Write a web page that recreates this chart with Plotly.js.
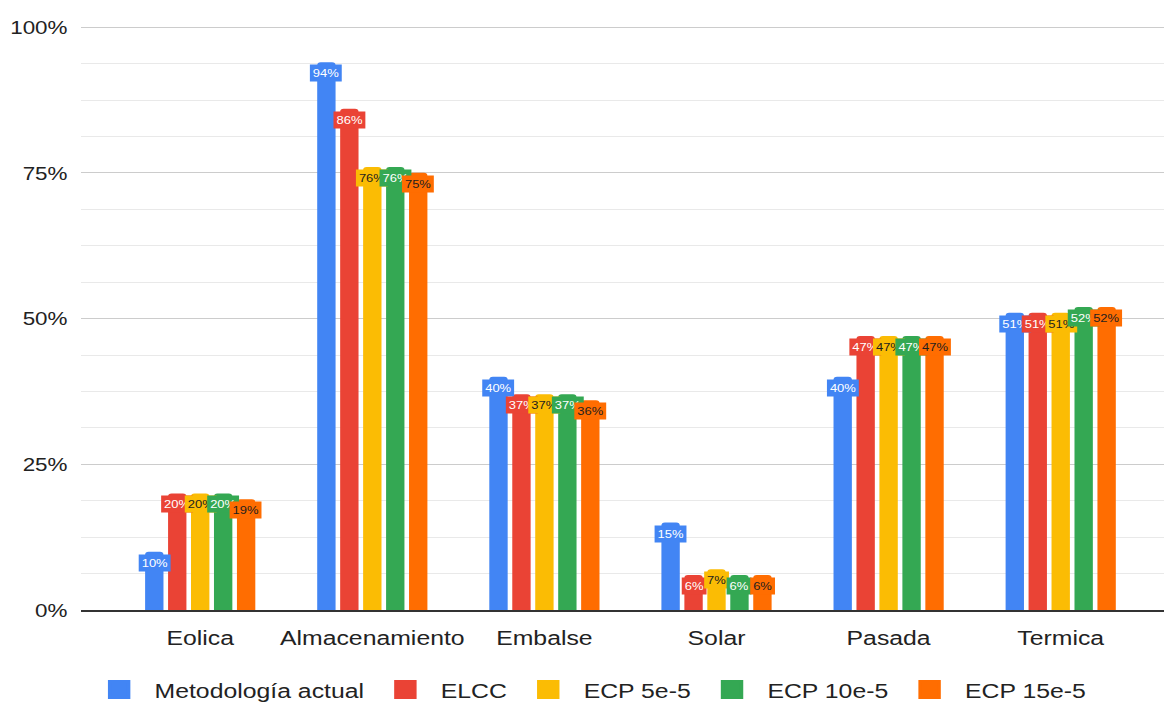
<!DOCTYPE html>
<html>
<head>
<meta charset="utf-8">
<script src="https://cdn.plot.ly/plotly-3.0.1.min.js"></script>
<style>
  html, body { margin: 0; padding: 0; background: #ffffff; overflow: hidden; }
  #chart { width: 986px; height: 704px; transform: scaleX(1.1805); transform-origin: 0 0; }
</style>
</head>
<body>
<div id="chart"></div>
<script>
// Capacity credit by technology, per methodology (percent)
const categories = ['Eolica', 'Almacenamiento', 'Embalse', 'Solar', 'Pasada', 'Termica'];
const seriesNames = ['Metodología actual', 'ELCC', 'ECP 5e-5', 'ECP 10e-5', 'ECP 15e-5'];
const metodologiaActual = [10, 94, 40, 15, 40, 51];
const elcc = [20, 86, 37, 6, 47, 51];
const ecp5 = [20, 76, 37, 7, 47, 51];
const ecp10 = [20, 76, 37, 6, 47, 52];
const ecp15 = [19, 75, 36, 6, 47, 52];
const yTickValues = [0, 25, 50, 75, 100];
const yTickLabels = yTickValues.map(v => v + '%');

const seriesValues = [metodologiaActual, elcc, ecp5, ecp10, ecp15];
const seriesColors = ['#4285F4', '#EA4335', '#FBBC04', '#34A853', '#FF6D01'];
const labelTextColors = ['#ffffff', '#ffffff', '#1f1f1f', '#ffffff', '#1f1f1f'];

const FONT = 'Liberation Sans, Arial, sans-serif';
const BARGAP = 0.333;
const GROUPGAP = 0.2;
const slot = (1 - BARGAP) / seriesNames.length;

const traces = [];
seriesNames.forEach((name, i) => {
  traces.push({
    type: 'bar',
    name: name,
    x: categories,
    y: seriesValues[i],
    marker: { color: seriesColors[i] },
    showlegend: false,
    legendgroup: name,
    hoverinfo: 'x+y'
  });
});
// legend entries with larger square swatches
seriesNames.forEach((name, i) => {
  traces.push({
    type: 'scatter',
    mode: 'markers',
    name: name,
    x: [null],
    y: [null],
    marker: { color: seriesColors[i], symbol: 'square', size: 16,
              line: { color: seriesColors[i], width: 3 } },
    legendgroup: name,
    showlegend: true
  });
});

// value labels sitting on top of each bar
const annotations = [];
seriesValues.forEach((vals, i) => {
  vals.forEach((v, j) => {
    annotations.push({
      xref: 'x', yref: 'y',
      x: j + (i - (seriesNames.length - 1) / 2) * slot,
      y: v,
      xanchor: 'center', yanchor: 'top',
      yshift: -2,
      text: v + '%',
      showarrow: false,
      bgcolor: seriesColors[i],
      borderpad: 2,
      font: { family: FONT, size: 11, color: labelTextColors[i] }
    });
  });
});

const layout = {
  width: 986,
  height: 704,
  margin: { l: 69, r: 0, t: 26, b: 94 },
  paper_bgcolor: '#ffffff',
  plot_bgcolor: '#ffffff',
  font: { family: FONT, color: '#222222' },
  barmode: 'group',
  bargap: BARGAP,
  bargroupgap: GROUPGAP,
  barcornerradius: 3,
  xaxis: {
    type: 'category',
    range: [-0.69, 5.6],
    showgrid: false,
    showline: true,
    linecolor: '#333333',
    linewidth: 1.5,
    ticks: 'outside',
    ticklen: 8,
    tickcolor: 'rgba(0,0,0,0)',
    tickfont: { family: FONT, size: 21, color: '#222222' },
    fixedrange: true
  },
  yaxis: {
    range: [0, 100.2],
    tickmode: 'array',
    tickvals: yTickValues,
    ticktext: yTickLabels,
    showgrid: true,
    gridcolor: '#cccccc',
    gridwidth: 1,
    zeroline: false,
    ticks: 'outside',
    ticklen: 7,
    tickcolor: 'rgba(0,0,0,0)',
    tickfont: { family: FONT, size: 19, color: '#222222' },
    minor: { tick0: 0, dtick: 6.25, showgrid: true, gridcolor: '#e9e9e9', gridwidth: 1 },
    fixedrange: true
  },
  legend: {
    orientation: 'h',
    xref: 'container', yref: 'container',
    x: 0.505, xanchor: 'center',
    y: 0.02, yanchor: 'middle',
    itemwidth: 50,
    font: { family: FONT, size: 21, color: '#222222' },
    itemclick: false, itemdoubleclick: false
  },
  annotations: annotations,
  showlegend: true
};

Plotly.newPlot('chart', traces, layout, { displayModeBar: false, staticPlot: true });
</script>
</body>
</html>
